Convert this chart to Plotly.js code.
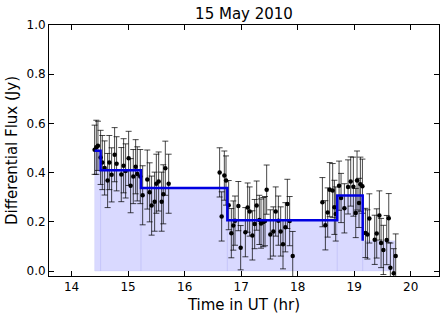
<!DOCTYPE html>
<html>
<head>
<meta charset="utf-8">
<script src="https://cdn.plot.ly/plotly-3.0.1.min.js"></script>
<style>html,body{margin:0;padding:0;background:#fff;}#chart{width:446px;height:319px;}</style>
</head>
<body>
<div id="chart"></div>
<script>
// Data points (time in UT hours, flux in Jy, 1-sigma error)
const times = [
  14.407, 14.437, 14.466, 14.513, 14.543, 14.584, 14.637, 14.667, 14.708, 14.761,
  14.796, 14.879, 14.920, 14.956, 15.009, 15.044, 15.091, 15.133, 15.162, 15.215,
  15.257, 15.339, 15.381, 15.416, 15.469, 15.499, 15.540, 15.593, 15.622, 15.658,
  15.717,
  16.619, 16.655, 16.702, 16.732, 16.779, 16.826, 16.861, 16.891, 16.950, 16.991,
  17.074, 17.115, 17.150, 17.198, 17.239, 17.274, 17.322, 17.351, 17.392, 17.422,
  17.451, 17.516, 17.569, 17.611, 17.658, 17.699, 17.740, 17.782, 17.817, 17.858,
  17.912,
  18.437, 18.490, 18.531, 18.566, 18.619, 18.649, 18.673, 18.732, 18.767, 18.826,
  18.891, 18.938, 18.985, 19.027, 19.050, 19.085, 19.109, 19.145, 19.198, 19.233,
  19.268, 19.363, 19.398, 19.445, 19.475, 19.516, 19.575, 19.611, 19.640, 19.699,
  19.734
];
const flux = [
  0.493, 0.503, 0.509, 0.462, 0.441, 0.419, 0.368, 0.441, 0.391, 0.473,
  0.436, 0.392, 0.428, 0.407, 0.458, 0.347, 0.384, 0.424, 0.395, 0.384,
  0.308, 0.372, 0.320, 0.266, 0.282, 0.355, 0.364, 0.282, 0.312, 0.418,
  0.355,
  0.401, 0.222, 0.388, 0.368, 0.268, 0.154, 0.185, 0.205, 0.264, 0.095,
  0.158, 0.258, 0.242, 0.145, 0.191, 0.266, 0.208, 0.193, 0.199, 0.203,
  0.331, 0.149, 0.161, 0.242, 0.205, 0.161, 0.109, 0.178, 0.273, 0.203,
  0.061,
  0.280, 0.186, 0.238, 0.331, 0.327, 0.259, 0.232, 0.347, 0.297, 0.255,
  0.342, 0.364, 0.343, 0.236, 0.368, 0.277, 0.353, 0.345, 0.155, 0.149,
  0.214, 0.127, 0.153, 0.226, 0.114, 0.086, 0.126, 0.215, 0.014, -0.009,
  0.061
];
const fluxErr = [
  0.10, 0.11, 0.10, 0.11, 0.11, 0.11, 0.11, 0.11, 0.11, 0.11,
  0.11, 0.11, 0.11, 0.11, 0.11, 0.11, 0.11, 0.11, 0.11, 0.11,
  0.12, 0.12, 0.12, 0.12, 0.12, 0.12, 0.12, 0.12, 0.12, 0.11,
  0.12,
  0.10, 0.10, 0.10, 0.10, 0.10, 0.10, 0.10, 0.10, 0.10, 0.09,
  0.10, 0.10, 0.10, 0.10, 0.10, 0.10, 0.10, 0.10, 0.10, 0.10,
  0.10, 0.10, 0.10, 0.10, 0.10, 0.10, 0.10, 0.10, 0.10, 0.10,
  0.10,
  0.10, 0.10, 0.10, 0.11, 0.11, 0.11, 0.11, 0.10, 0.10, 0.10,
  0.11, 0.10, 0.12, 0.10, 0.12, 0.10, 0.11, 0.11, 0.10, 0.10,
  0.10, 0.10, 0.10, 0.10, 0.10, 0.10, 0.10, 0.10, 0.10, 0.10,
  0.09
];
// Step levels: block edges and flux levels
const blockEdges = [14.407, 14.513, 15.227, 16.755, 18.70, 19.15, 19.72];
const blockLevels = [0.489, 0.41, 0.338, 0.207, 0.307, 0.123];

const xTicks = [14, 15, 16, 17, 18, 19, 20];
const yTicks = [0.0, 0.2, 0.4, 0.6, 0.8, 1.0];

const blockStarts = blockEdges.slice(0, -1);
const blockWidths = blockStarts.map((s, i) => blockEdges[i + 1] - s);

const traces = [
  {
    type: 'bar',
    x: blockStarts,
    y: blockLevels,
    width: blockWidths,
    offset: 0,
    base: 0,
    marker: {color: 'rgba(0,0,255,0.15)', line: {color: 'rgba(0,0,200,0.05)', width: 1}},
    hoverinfo: 'skip',
    showlegend: false
  },
  {
    type: 'scatter',
    mode: 'markers',
    x: times,
    y: flux,
    error_y: {type: 'data', array: fluxErr, visible: true, color: 'rgba(0,0,0,0.72)', thickness: 1, width: 3},
    marker: {color: 'black', size: 4.5},
    showlegend: false
  },
  {
    type: 'scatter',
    mode: 'lines',
    x: blockStarts,
    y: blockLevels,
    line: {shape: 'hv', color: 'rgb(0,0,225)', width: 2.5},
    showlegend: false
  }
];

const axisCommon = {
  showline: true, linecolor: 'black', linewidth: 1, mirror: 'allticks',
  ticks: 'inside', ticklen: 5, tickwidth: 1, tickcolor: 'black',
  showgrid: false, zeroline: false,
  tickfont: {size: 12, color: 'black'}
};

const layout = {
  width: 446, height: 319,
  margin: {l: 49, r: 7, t: 25, b: 43},
  paper_bgcolor: 'white', plot_bgcolor: 'white',
  font: {family: 'DejaVu Sans, sans-serif', color: 'black'},
  title: {text: '15 May 2010', font: {size: 15, color: 'black'}, x: 0.5, xref: 'paper', y: 1 - 14/319, yref: 'container', yanchor: 'middle'},
  xaxis: Object.assign({}, axisCommon, {
    range: [13.6, 20.5], tickvals: xTicks, ticktext: xTicks.map(String),
    title: {text: 'Time in UT (hr)', font: {size: 15, color: 'black'}, standoff: 6}
  }),
  yaxis: Object.assign({}, axisCommon, {
    range: [-0.02, 1.0], tickvals: yTicks, ticktext: yTicks.map(v => v.toFixed(1)),
    title: {text: 'Differential Flux (Jy)', font: {size: 15, color: 'black'}, standoff: 5}
  }),
  bargap: 0
};

Plotly.newPlot('chart', traces, layout, {displayModeBar: false, staticPlot: true});
</script>
</body>
</html>
